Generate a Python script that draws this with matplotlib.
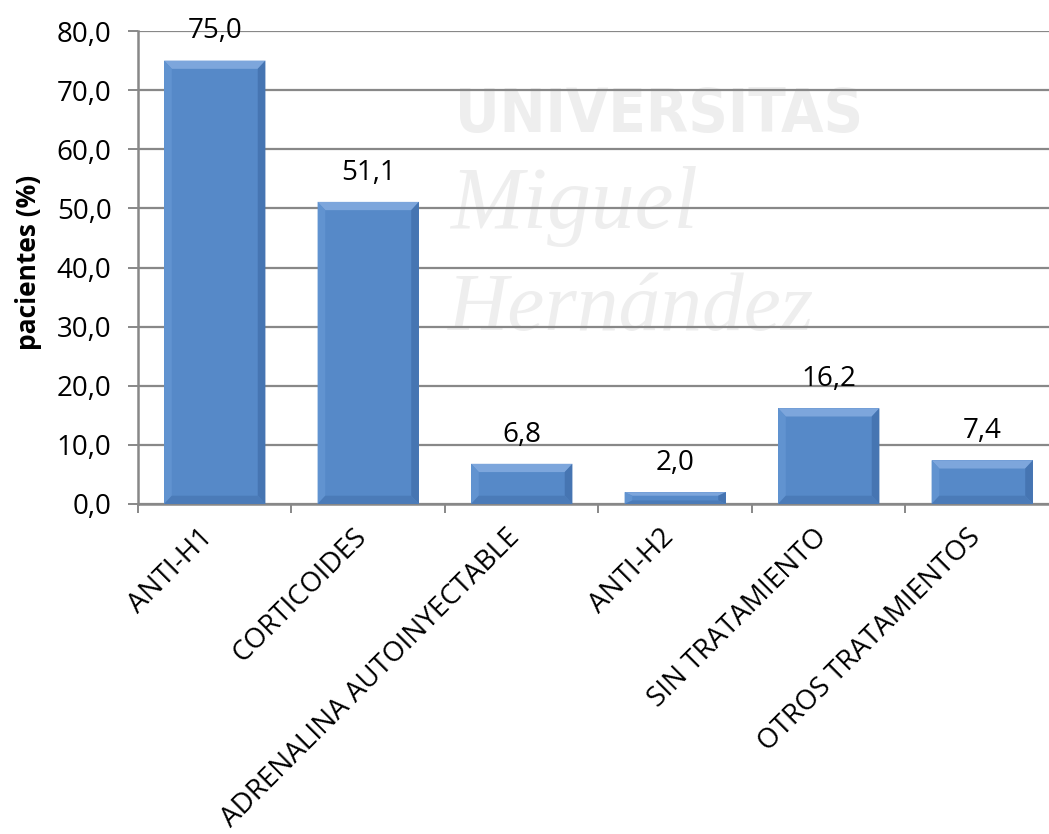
import matplotlib
matplotlib.use("Agg")
import matplotlib.pyplot as plt
from matplotlib.transforms import ScaledTranslation

categories = ["ANTI-H1", "CORTICOIDES", "ADRENALINA AUTOINYECTABLE",
              "ANTI-H2", "SIN TRATAMIENTO", "OTROS TRATAMIENTOS"]
porcentaje = [75.0, 51.1, 6.8, 2.0, 16.2, 7.4]
yticks = [0, 10, 20, 30, 40, 50, 60, 70, 80]

plt.rcParams['font.family'] = ['Open Sans', 'DejaVu Sans']

W, H = 1049, 834
fig = plt.figure(figsize=(W / 100, H / 100), dpi=100)
ax = fig.add_axes([138 / W, 1 - 504 / H, 921 / W, 473 / H])
ax.patch.set_alpha(0)

# faint watermark behind the chart
wm = "#EEEEEE"
fig.text(455 / W, 1 - 132 / H, "UNIVERSITAS", color=wm, fontsize=44, weight="bold",
         family=["DejaVu Sans"], stretch="condensed", va="baseline", zorder=-5)
fig.text(450 / W, 1 - 228 / H, "Miguel", color=wm, fontsize=63, style="italic",
         family=["Liberation Serif"], va="baseline", zorder=-5)
fig.text(448 / W, 1 - 330 / H, "Hernández", color=wm, fontsize=60, style="italic",
         family=["Liberation Serif"], va="baseline", zorder=-5)

xs = list(range(len(categories)))
w = 0.66
ax.bar(xs, porcentaje, width=w, color="#5689C8", edgecolor="none", zorder=3)

# bevel edges (Excel style)
bx = 0.05
for x, v in zip(xs, porcentaje):
    by = min(1.4, v * 0.3)
    l, r = x - w / 2, x + w / 2
    ax.fill([l, r, r - bx, l + bx], [v, v, v - by, v - by], color="#7DA6DC", lw=0, zorder=4)
    ax.fill([l, l, l + bx, l + bx], [0, v, v - by, by], color="#6193D0", lw=0, zorder=4)
    ax.fill([r, r, r - bx, r - bx], [0, v, v - by, by], color="#4675B2", lw=0, zorder=4)
    ax.fill([l, r, r - bx, l + bx], [0, 0, by, by], color="#4B7BB8", lw=0, zorder=4)
    ax.annotate(f"{v:.1f}".replace(".", ","), (x, v), xytext=(0, 21), textcoords="offset points",
                ha="center", va="center", fontsize=20, zorder=5)

ax.set_xlim(-0.5, len(categories) - 0.5)
ax.set_ylim(0, 80)
ax.set_yticks(yticks)
ax.set_yticklabels([f"{t:.1f}".replace(".", ",") for t in yticks], fontsize=20)
ax.yaxis.grid(True, color="#888888", lw=1.6)
ax.set_axisbelow(True)

ax.set_xticks([i - 0.5 for i in range(len(categories) + 1)])
ax.set_xticklabels([])
ax.set_xticks(xs, minor=True)
ax.set_xticklabels(categories, minor=True, rotation=45, ha="right", va="center",
                   rotation_mode="anchor", fontsize=20)
ax.tick_params(axis="x", which="major", direction="out", length=6.5, width=1.4, color="#888888")
ax.tick_params(axis="x", which="minor", length=0, pad=21)
ax.tick_params(axis="y", direction="out", length=7, width=1.4, color="#888888", pad=12)
for lab in ax.get_xticklabels(minor=True):
    lab.set_transform(lab.get_transform() + ScaledTranslation(-6 / 100, 0, fig.dpi_scale_trans))

for s in ["top", "right"]:
    ax.spines[s].set_visible(False)
for s in ["left", "bottom"]:
    ax.spines[s].set_color("#888888")
    ax.spines[s].set_linewidth(1.8)

ax.set_ylabel("pacientes (%)", fontsize=19, weight="bold", va="center")
ax.yaxis.set_label_coords(-0.119, 0.51)

fig.savefig("out.png", dpi=100)
